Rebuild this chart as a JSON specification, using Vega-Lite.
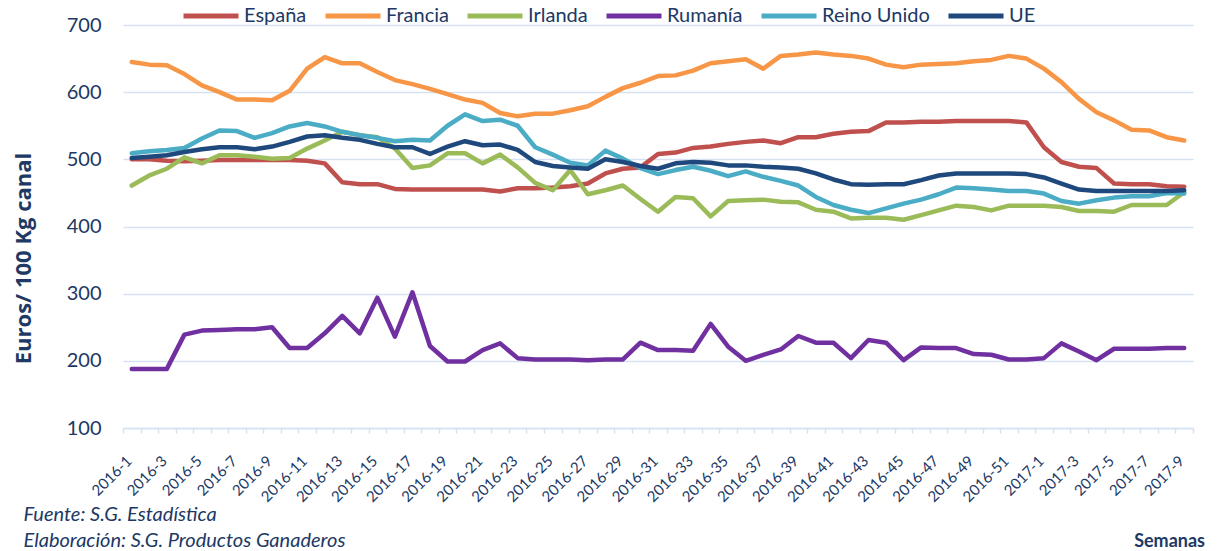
{
"$schema": "https://vega.github.io/schema/vega-lite/v6.json",
"width": 1070, "height": 403,
"autosize": {"type": "none"},
"padding": {"left": 123, "top": 25, "right": 25, "bottom": 123},
"background": "white",
"config": {"font": "Lato", "view": {"stroke": null}},
"title": {"text": "Semanas", "orient": "bottom", "anchor": "end", "frame": "group", "fontSize": 18, "fontWeight": "bold", "color": "#203864", "dx": 12, "offset": -17},
"datasets": {"precios": [
{"semana":"2016-1","pais":"España","precio":500},{"semana":"2016-2","pais":"España","precio":500},{"semana":"2016-3","pais":"España","precio":498},{"semana":"2016-4","pais":"España","precio":497},{"semana":"2016-5","pais":"España","precio":498},{"semana":"2016-6","pais":"España","precio":499},{"semana":"2016-7","pais":"España","precio":499},{"semana":"2016-8","pais":"España","precio":499},{"semana":"2016-9","pais":"España","precio":499},{"semana":"2016-10","pais":"España","precio":499},
{"semana":"2016-11","pais":"España","precio":498},{"semana":"2016-12","pais":"España","precio":494},{"semana":"2016-13","pais":"España","precio":466},{"semana":"2016-14","pais":"España","precio":463},{"semana":"2016-15","pais":"España","precio":463},{"semana":"2016-16","pais":"España","precio":456},{"semana":"2016-17","pais":"España","precio":455},{"semana":"2016-18","pais":"España","precio":455},{"semana":"2016-19","pais":"España","precio":455},{"semana":"2016-20","pais":"España","precio":455},
{"semana":"2016-21","pais":"España","precio":455},{"semana":"2016-22","pais":"España","precio":452},{"semana":"2016-23","pais":"España","precio":457},{"semana":"2016-24","pais":"España","precio":457},{"semana":"2016-25","pais":"España","precio":458},{"semana":"2016-26","pais":"España","precio":460},{"semana":"2016-27","pais":"España","precio":464},{"semana":"2016-28","pais":"España","precio":479},{"semana":"2016-29","pais":"España","precio":486},{"semana":"2016-30","pais":"España","precio":488},
{"semana":"2016-31","pais":"España","precio":508},{"semana":"2016-32","pais":"España","precio":510},{"semana":"2016-33","pais":"España","precio":517},{"semana":"2016-34","pais":"España","precio":519},{"semana":"2016-35","pais":"España","precio":523},{"semana":"2016-36","pais":"España","precio":526},{"semana":"2016-37","pais":"España","precio":528},{"semana":"2016-38","pais":"España","precio":524},{"semana":"2016-39","pais":"España","precio":533},{"semana":"2016-40","pais":"España","precio":533},
{"semana":"2016-41","pais":"España","precio":538},{"semana":"2016-42","pais":"España","precio":541},{"semana":"2016-43","pais":"España","precio":542},{"semana":"2016-44","pais":"España","precio":555},{"semana":"2016-45","pais":"España","precio":555},{"semana":"2016-46","pais":"España","precio":556},{"semana":"2016-47","pais":"España","precio":556},{"semana":"2016-48","pais":"España","precio":557},{"semana":"2016-49","pais":"España","precio":557},{"semana":"2016-50","pais":"España","precio":557},
{"semana":"2016-51","pais":"España","precio":557},{"semana":"2016-52","pais":"España","precio":555},{"semana":"2017-1","pais":"España","precio":518},{"semana":"2017-2","pais":"España","precio":496},{"semana":"2017-3","pais":"España","precio":489},{"semana":"2017-4","pais":"España","precio":487},{"semana":"2017-5","pais":"España","precio":464},{"semana":"2017-6","pais":"España","precio":463},{"semana":"2017-7","pais":"España","precio":463},{"semana":"2017-8","pais":"España","precio":460},{"semana":"2017-9","pais":"España","precio":459},
{"semana":"2016-1","pais":"Francia","precio":645},{"semana":"2016-2","pais":"Francia","precio":641},{"semana":"2016-3","pais":"Francia","precio":640},{"semana":"2016-4","pais":"Francia","precio":627},{"semana":"2016-5","pais":"Francia","precio":610},{"semana":"2016-6","pais":"Francia","precio":600},{"semana":"2016-7","pais":"Francia","precio":589},{"semana":"2016-8","pais":"Francia","precio":589},{"semana":"2016-9","pais":"Francia","precio":588},{"semana":"2016-10","pais":"Francia","precio":602},
{"semana":"2016-11","pais":"Francia","precio":635},{"semana":"2016-12","pais":"Francia","precio":652},{"semana":"2016-13","pais":"Francia","precio":643},{"semana":"2016-14","pais":"Francia","precio":643},{"semana":"2016-15","pais":"Francia","precio":630},{"semana":"2016-16","pais":"Francia","precio":618},{"semana":"2016-17","pais":"Francia","precio":612},{"semana":"2016-18","pais":"Francia","precio":605},{"semana":"2016-19","pais":"Francia","precio":597},{"semana":"2016-20","pais":"Francia","precio":589},
{"semana":"2016-21","pais":"Francia","precio":584},{"semana":"2016-22","pais":"Francia","precio":569},{"semana":"2016-23","pais":"Francia","precio":564},{"semana":"2016-24","pais":"Francia","precio":568},{"semana":"2016-25","pais":"Francia","precio":568},{"semana":"2016-26","pais":"Francia","precio":573},{"semana":"2016-27","pais":"Francia","precio":579},{"semana":"2016-28","pais":"Francia","precio":593},{"semana":"2016-29","pais":"Francia","precio":606},{"semana":"2016-30","pais":"Francia","precio":614},
{"semana":"2016-31","pais":"Francia","precio":624},{"semana":"2016-32","pais":"Francia","precio":625},{"semana":"2016-33","pais":"Francia","precio":632},{"semana":"2016-34","pais":"Francia","precio":643},{"semana":"2016-35","pais":"Francia","precio":646},{"semana":"2016-36","pais":"Francia","precio":649},{"semana":"2016-37","pais":"Francia","precio":635},{"semana":"2016-38","pais":"Francia","precio":654},{"semana":"2016-39","pais":"Francia","precio":656},{"semana":"2016-40","pais":"Francia","precio":659},
{"semana":"2016-41","pais":"Francia","precio":656},{"semana":"2016-42","pais":"Francia","precio":654},{"semana":"2016-43","pais":"Francia","precio":650},{"semana":"2016-44","pais":"Francia","precio":641},{"semana":"2016-45","pais":"Francia","precio":637},{"semana":"2016-46","pais":"Francia","precio":641},{"semana":"2016-47","pais":"Francia","precio":642},{"semana":"2016-48","pais":"Francia","precio":643},{"semana":"2016-49","pais":"Francia","precio":646},{"semana":"2016-50","pais":"Francia","precio":648},
{"semana":"2016-51","pais":"Francia","precio":654},{"semana":"2016-52","pais":"Francia","precio":650},{"semana":"2017-1","pais":"Francia","precio":635},{"semana":"2017-2","pais":"Francia","precio":615},{"semana":"2017-3","pais":"Francia","precio":590},{"semana":"2017-4","pais":"Francia","precio":570},{"semana":"2017-5","pais":"Francia","precio":558},{"semana":"2017-6","pais":"Francia","precio":544},{"semana":"2017-7","pais":"Francia","precio":543},{"semana":"2017-8","pais":"Francia","precio":533},{"semana":"2017-9","pais":"Francia","precio":528},
{"semana":"2016-1","pais":"Irlanda","precio":461},{"semana":"2016-2","pais":"Irlanda","precio":476},{"semana":"2016-3","pais":"Irlanda","precio":486},{"semana":"2016-4","pais":"Irlanda","precio":503},{"semana":"2016-5","pais":"Irlanda","precio":494},{"semana":"2016-6","pais":"Irlanda","precio":506},{"semana":"2016-7","pais":"Irlanda","precio":506},{"semana":"2016-8","pais":"Irlanda","precio":504},{"semana":"2016-9","pais":"Irlanda","precio":501},{"semana":"2016-10","pais":"Irlanda","precio":502},
{"semana":"2016-11","pais":"Irlanda","precio":516},{"semana":"2016-12","pais":"Irlanda","precio":528},{"semana":"2016-13","pais":"Irlanda","precio":541},{"semana":"2016-14","pais":"Irlanda","precio":536},{"semana":"2016-15","pais":"Irlanda","precio":533},{"semana":"2016-16","pais":"Irlanda","precio":516},{"semana":"2016-17","pais":"Irlanda","precio":487},{"semana":"2016-18","pais":"Irlanda","precio":491},{"semana":"2016-19","pais":"Irlanda","precio":509},{"semana":"2016-20","pais":"Irlanda","precio":509},
{"semana":"2016-21","pais":"Irlanda","precio":494},{"semana":"2016-22","pais":"Irlanda","precio":507},{"semana":"2016-23","pais":"Irlanda","precio":488},{"semana":"2016-24","pais":"Irlanda","precio":465},{"semana":"2016-25","pais":"Irlanda","precio":454},{"semana":"2016-26","pais":"Irlanda","precio":484},{"semana":"2016-27","pais":"Irlanda","precio":448},{"semana":"2016-28","pais":"Irlanda","precio":454},{"semana":"2016-29","pais":"Irlanda","precio":461},{"semana":"2016-30","pais":"Irlanda","precio":441},
{"semana":"2016-31","pais":"Irlanda","precio":422},{"semana":"2016-32","pais":"Irlanda","precio":444},{"semana":"2016-33","pais":"Irlanda","precio":442},{"semana":"2016-34","pais":"Irlanda","precio":415},{"semana":"2016-35","pais":"Irlanda","precio":438},{"semana":"2016-36","pais":"Irlanda","precio":439},{"semana":"2016-37","pais":"Irlanda","precio":440},{"semana":"2016-38","pais":"Irlanda","precio":437},{"semana":"2016-39","pais":"Irlanda","precio":436},{"semana":"2016-40","pais":"Irlanda","precio":425},
{"semana":"2016-41","pais":"Irlanda","precio":422},{"semana":"2016-42","pais":"Irlanda","precio":412},{"semana":"2016-43","pais":"Irlanda","precio":413},{"semana":"2016-44","pais":"Irlanda","precio":413},{"semana":"2016-45","pais":"Irlanda","precio":410},{"semana":"2016-46","pais":"Irlanda","precio":417},{"semana":"2016-47","pais":"Irlanda","precio":424},{"semana":"2016-48","pais":"Irlanda","precio":431},{"semana":"2016-49","pais":"Irlanda","precio":429},{"semana":"2016-50","pais":"Irlanda","precio":424},
{"semana":"2016-51","pais":"Irlanda","precio":431},{"semana":"2016-52","pais":"Irlanda","precio":431},{"semana":"2017-1","pais":"Irlanda","precio":431},{"semana":"2017-2","pais":"Irlanda","precio":429},{"semana":"2017-3","pais":"Irlanda","precio":423},{"semana":"2017-4","pais":"Irlanda","precio":423},{"semana":"2017-5","pais":"Irlanda","precio":422},{"semana":"2017-6","pais":"Irlanda","precio":432},{"semana":"2017-7","pais":"Irlanda","precio":432},{"semana":"2017-8","pais":"Irlanda","precio":432},{"semana":"2017-9","pais":"Irlanda","precio":451},
{"semana":"2016-1","pais":"Rumanía","precio":188},{"semana":"2016-2","pais":"Rumanía","precio":188},{"semana":"2016-3","pais":"Rumanía","precio":188},{"semana":"2016-4","pais":"Rumanía","precio":239},{"semana":"2016-5","pais":"Rumanía","precio":245},{"semana":"2016-6","pais":"Rumanía","precio":246},{"semana":"2016-7","pais":"Rumanía","precio":247},{"semana":"2016-8","pais":"Rumanía","precio":247},{"semana":"2016-9","pais":"Rumanía","precio":250},{"semana":"2016-10","pais":"Rumanía","precio":219},
{"semana":"2016-11","pais":"Rumanía","precio":219},{"semana":"2016-12","pais":"Rumanía","precio":241},{"semana":"2016-13","pais":"Rumanía","precio":267},{"semana":"2016-14","pais":"Rumanía","precio":241},{"semana":"2016-15","pais":"Rumanía","precio":294},{"semana":"2016-16","pais":"Rumanía","precio":236},{"semana":"2016-17","pais":"Rumanía","precio":302},{"semana":"2016-18","pais":"Rumanía","precio":222},{"semana":"2016-19","pais":"Rumanía","precio":199},{"semana":"2016-20","pais":"Rumanía","precio":199},
{"semana":"2016-21","pais":"Rumanía","precio":216},{"semana":"2016-22","pais":"Rumanía","precio":226},{"semana":"2016-23","pais":"Rumanía","precio":204},{"semana":"2016-24","pais":"Rumanía","precio":202},{"semana":"2016-25","pais":"Rumanía","precio":202},{"semana":"2016-26","pais":"Rumanía","precio":202},{"semana":"2016-27","pais":"Rumanía","precio":201},{"semana":"2016-28","pais":"Rumanía","precio":202},{"semana":"2016-29","pais":"Rumanía","precio":202},{"semana":"2016-30","pais":"Rumanía","precio":227},
{"semana":"2016-31","pais":"Rumanía","precio":216},{"semana":"2016-32","pais":"Rumanía","precio":216},{"semana":"2016-33","pais":"Rumanía","precio":215},{"semana":"2016-34","pais":"Rumanía","precio":255},{"semana":"2016-35","pais":"Rumanía","precio":221},{"semana":"2016-36","pais":"Rumanía","precio":200},{"semana":"2016-37","pais":"Rumanía","precio":209},{"semana":"2016-38","pais":"Rumanía","precio":217},{"semana":"2016-39","pais":"Rumanía","precio":237},{"semana":"2016-40","pais":"Rumanía","precio":227},
{"semana":"2016-41","pais":"Rumanía","precio":227},{"semana":"2016-42","pais":"Rumanía","precio":204},{"semana":"2016-43","pais":"Rumanía","precio":231},{"semana":"2016-44","pais":"Rumanía","precio":227},{"semana":"2016-45","pais":"Rumanía","precio":201},{"semana":"2016-46","pais":"Rumanía","precio":220},{"semana":"2016-47","pais":"Rumanía","precio":219},{"semana":"2016-48","pais":"Rumanía","precio":219},{"semana":"2016-49","pais":"Rumanía","precio":210},{"semana":"2016-50","pais":"Rumanía","precio":209},
{"semana":"2016-51","pais":"Rumanía","precio":202},{"semana":"2016-52","pais":"Rumanía","precio":202},{"semana":"2017-1","pais":"Rumanía","precio":204},{"semana":"2017-2","pais":"Rumanía","precio":226},{"semana":"2017-3","pais":"Rumanía","precio":214},{"semana":"2017-4","pais":"Rumanía","precio":201},{"semana":"2017-5","pais":"Rumanía","precio":218},{"semana":"2017-6","pais":"Rumanía","precio":218},{"semana":"2017-7","pais":"Rumanía","precio":218},{"semana":"2017-8","pais":"Rumanía","precio":219},{"semana":"2017-9","pais":"Rumanía","precio":219},
{"semana":"2016-1","pais":"Reino Unido","precio":509},{"semana":"2016-2","pais":"Reino Unido","precio":512},{"semana":"2016-3","pais":"Reino Unido","precio":514},{"semana":"2016-4","pais":"Reino Unido","precio":517},{"semana":"2016-5","pais":"Reino Unido","precio":531},{"semana":"2016-6","pais":"Reino Unido","precio":543},{"semana":"2016-7","pais":"Reino Unido","precio":542},{"semana":"2016-8","pais":"Reino Unido","precio":532},{"semana":"2016-9","pais":"Reino Unido","precio":539},{"semana":"2016-10","pais":"Reino Unido","precio":549},
{"semana":"2016-11","pais":"Reino Unido","precio":554},{"semana":"2016-12","pais":"Reino Unido","precio":549},{"semana":"2016-13","pais":"Reino Unido","precio":541},{"semana":"2016-14","pais":"Reino Unido","precio":536},{"semana":"2016-15","pais":"Reino Unido","precio":532},{"semana":"2016-16","pais":"Reino Unido","precio":527},{"semana":"2016-17","pais":"Reino Unido","precio":529},{"semana":"2016-18","pais":"Reino Unido","precio":528},{"semana":"2016-19","pais":"Reino Unido","precio":550},{"semana":"2016-20","pais":"Reino Unido","precio":567},
{"semana":"2016-21","pais":"Reino Unido","precio":557},{"semana":"2016-22","pais":"Reino Unido","precio":559},{"semana":"2016-23","pais":"Reino Unido","precio":550},{"semana":"2016-24","pais":"Reino Unido","precio":518},{"semana":"2016-25","pais":"Reino Unido","precio":507},{"semana":"2016-26","pais":"Reino Unido","precio":495},{"semana":"2016-27","pais":"Reino Unido","precio":491},{"semana":"2016-28","pais":"Reino Unido","precio":513},{"semana":"2016-29","pais":"Reino Unido","precio":501},{"semana":"2016-30","pais":"Reino Unido","precio":487},
{"semana":"2016-31","pais":"Reino Unido","precio":478},{"semana":"2016-32","pais":"Reino Unido","precio":484},{"semana":"2016-33","pais":"Reino Unido","precio":489},{"semana":"2016-34","pais":"Reino Unido","precio":483},{"semana":"2016-35","pais":"Reino Unido","precio":475},{"semana":"2016-36","pais":"Reino Unido","precio":482},{"semana":"2016-37","pais":"Reino Unido","precio":474},{"semana":"2016-38","pais":"Reino Unido","precio":468},{"semana":"2016-39","pais":"Reino Unido","precio":461},{"semana":"2016-40","pais":"Reino Unido","precio":444},
{"semana":"2016-41","pais":"Reino Unido","precio":432},{"semana":"2016-42","pais":"Reino Unido","precio":425},{"semana":"2016-43","pais":"Reino Unido","precio":420},{"semana":"2016-44","pais":"Reino Unido","precio":427},{"semana":"2016-45","pais":"Reino Unido","precio":434},{"semana":"2016-46","pais":"Reino Unido","precio":440},{"semana":"2016-47","pais":"Reino Unido","precio":448},{"semana":"2016-48","pais":"Reino Unido","precio":458},{"semana":"2016-49","pais":"Reino Unido","precio":457},{"semana":"2016-50","pais":"Reino Unido","precio":455},
{"semana":"2016-51","pais":"Reino Unido","precio":453},{"semana":"2016-52","pais":"Reino Unido","precio":453},{"semana":"2017-1","pais":"Reino Unido","precio":449},{"semana":"2017-2","pais":"Reino Unido","precio":438},{"semana":"2017-3","pais":"Reino Unido","precio":434},{"semana":"2017-4","pais":"Reino Unido","precio":439},{"semana":"2017-5","pais":"Reino Unido","precio":443},{"semana":"2017-6","pais":"Reino Unido","precio":445},{"semana":"2017-7","pais":"Reino Unido","precio":445},{"semana":"2017-8","pais":"Reino Unido","precio":450},{"semana":"2017-9","pais":"Reino Unido","precio":449},
{"semana":"2016-1","pais":"UE","precio":502},{"semana":"2016-2","pais":"UE","precio":504},{"semana":"2016-3","pais":"UE","precio":506},{"semana":"2016-4","pais":"UE","precio":511},{"semana":"2016-5","pais":"UE","precio":515},{"semana":"2016-6","pais":"UE","precio":518},{"semana":"2016-7","pais":"UE","precio":518},{"semana":"2016-8","pais":"UE","precio":515},{"semana":"2016-9","pais":"UE","precio":519},{"semana":"2016-10","pais":"UE","precio":526},
{"semana":"2016-11","pais":"UE","precio":534},{"semana":"2016-12","pais":"UE","precio":536},{"semana":"2016-13","pais":"UE","precio":532},{"semana":"2016-14","pais":"UE","precio":529},{"semana":"2016-15","pais":"UE","precio":523},{"semana":"2016-16","pais":"UE","precio":518},{"semana":"2016-17","pais":"UE","precio":518},{"semana":"2016-18","pais":"UE","precio":508},{"semana":"2016-19","pais":"UE","precio":519},{"semana":"2016-20","pais":"UE","precio":527},
{"semana":"2016-21","pais":"UE","precio":521},{"semana":"2016-22","pais":"UE","precio":522},{"semana":"2016-23","pais":"UE","precio":514},{"semana":"2016-24","pais":"UE","precio":496},{"semana":"2016-25","pais":"UE","precio":490},{"semana":"2016-26","pais":"UE","precio":488},{"semana":"2016-27","pais":"UE","precio":486},{"semana":"2016-28","pais":"UE","precio":500},{"semana":"2016-29","pais":"UE","precio":496},{"semana":"2016-30","pais":"UE","precio":490},
{"semana":"2016-31","pais":"UE","precio":486},{"semana":"2016-32","pais":"UE","precio":494},{"semana":"2016-33","pais":"UE","precio":496},{"semana":"2016-34","pais":"UE","precio":495},{"semana":"2016-35","pais":"UE","precio":491},{"semana":"2016-36","pais":"UE","precio":491},{"semana":"2016-37","pais":"UE","precio":489},{"semana":"2016-38","pais":"UE","precio":488},{"semana":"2016-39","pais":"UE","precio":486},{"semana":"2016-40","pais":"UE","precio":479},
{"semana":"2016-41","pais":"UE","precio":470},{"semana":"2016-42","pais":"UE","precio":463},{"semana":"2016-43","pais":"UE","precio":462},{"semana":"2016-44","pais":"UE","precio":463},{"semana":"2016-45","pais":"UE","precio":463},{"semana":"2016-46","pais":"UE","precio":469},{"semana":"2016-47","pais":"UE","precio":476},{"semana":"2016-48","pais":"UE","precio":479},{"semana":"2016-49","pais":"UE","precio":479},{"semana":"2016-50","pais":"UE","precio":479},
{"semana":"2016-51","pais":"UE","precio":479},{"semana":"2016-52","pais":"UE","precio":478},{"semana":"2017-1","pais":"UE","precio":473},{"semana":"2017-2","pais":"UE","precio":464},{"semana":"2017-3","pais":"UE","precio":455},{"semana":"2017-4","pais":"UE","precio":453},{"semana":"2017-5","pais":"UE","precio":453},{"semana":"2017-6","pais":"UE","precio":453},{"semana":"2017-7","pais":"UE","precio":453},{"semana":"2017-8","pais":"UE","precio":453},{"semana":"2017-9","pais":"UE","precio":454}
]},
"data": {"name": "precios"},
"mark": {"type": "line", "strokeWidth": 4.5, "strokeCap": "round", "strokeJoin": "round"},
"encoding": {
  "x": {"field": "semana", "type": "ordinal", "sort": null,
    "scale": {"type": "band", "paddingInner": 0, "paddingOuter": 0},
    "axis": {"title": ["Fuente: S.G. Estadística", "Elaboración: S.G. Productos Ganaderos"],
      "titleX": -100, "titleY": 76, "titleAlign": "left", "titleAnchor": "start", "titleBaseline": "top",
      "titleFontStyle": "italic", "titleFontWeight": "normal", "titleFontSize": 20, "titleLineHeight": 26, "titleColor": "#203864",
      "labelAngle": -45, "labelAlign": "right", "labelBaseline": "middle", "labelFontSize": 15, "labelColor": "#203864",
      "labelPadding": 25, "labelOffset": -3,
      "labelExpr": "toNumber(split(datum.value, '-')[1]) % 2 == 1 ? datum.value : ''", "labelOverlap": false,
      "tickBand": "extent", "ticks": true, "tickSize": 5, "tickColor": "#D6E1F2", "tickWidth": 1.5,
      "domainColor": "#D6E1F2", "domainWidth": 1.5, "grid": false}},
  "y": {"field": "precio", "type": "quantitative", "scale": {"domain": [100, 700], "nice": false, "zero": false},
    "axis": {"values": [100, 200, 300, 400, 500, 600, 700], "title": "Euros/ 100 Kg canal",
      "titleX": -100, "titleY": 233, "titleAngle": -90, "titleAlign": "center", "titleBaseline": "middle",
      "titleFont": "Open Sans", "titleFontSize": 22, "titleFontWeight": "bold", "titleColor": "#203864",
      "labelFontSize": 20, "labelColor": "#203864", "labelPadding": 22,
      "ticks": false, "domain": false, "grid": true, "gridColor": "#D6E1F2", "gridWidth": 1.5}},
  "color": {"field": "pais", "type": "nominal",
    "scale": {"domain": ["España", "Francia", "Irlanda", "Rumanía", "Reino Unido", "UE"],
              "range": ["#C0504D", "#F79646", "#9BBB59", "#7030A0", "#4BACC6", "#1F497D"]},
    "legend": {"title": null, "orient": "none", "legendX": 58, "legendY": -39, "direction": "horizontal",
      "symbolType": "stroke", "symbolSize": 3025, "symbolStrokeWidth": 5, "labelFontSize": 20, "labelColor": "#203864",
      "columnPadding": 8, "labelOffset": 3}}
}
}
